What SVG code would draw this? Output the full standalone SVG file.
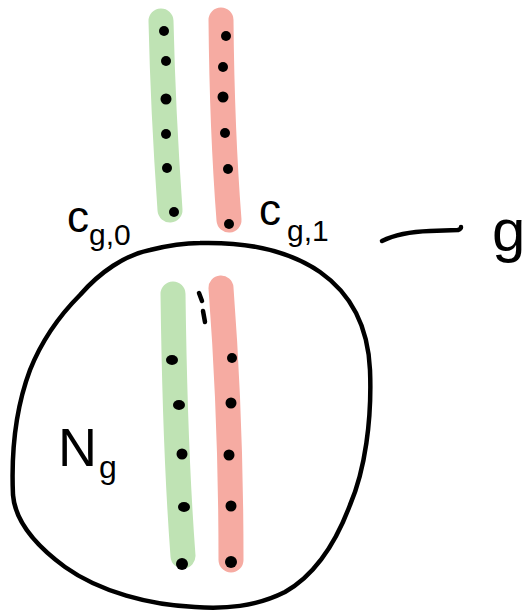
<svg xmlns="http://www.w3.org/2000/svg" width="527" height="612" viewBox="0 0 527 612">
<style>
.bar{fill:none;stroke-width:25;stroke-linecap:round}
.g{stroke:#bfe3b4}
.r{stroke:#f6aba2}
.dot{fill:#000}
.ink{fill:none;stroke:#000;stroke-width:4.5;stroke-linecap:round;stroke-linejoin:round}
.t{font-family:"Liberation Sans",Arial,sans-serif;fill:#000}
</style>
<rect width="527" height="612" fill="#fff"/>
<g id="node-cg0">
<path class="bar g" d="M161,21 Q163,110 170,210"/>
<g class="dot">
<circle cx="164" cy="31" r="5"/><circle cx="166" cy="61" r="5"/><circle cx="166" cy="99" r="5.5"/><circle cx="166" cy="134" r="5"/><circle cx="167" cy="168" r="5"/><circle cx="174" cy="212" r="5"/>
</g>
<text class="t" x="67" y="232" font-size="44">c<tspan font-size="30" dy="13">g,0</tspan></text>
</g>
<g id="node-cg1">
<path class="bar r" d="M221,20 Q222,130 229,220"/>
<g class="dot">
<circle cx="226" cy="36" r="5"/><circle cx="223" cy="67" r="5"/><circle cx="223" cy="97" r="5.5"/><circle cx="225" cy="133" r="5"/><circle cx="228" cy="169" r="5"/><circle cx="229" cy="224" r="5"/>
</g>
<text class="t" x="259" y="225" font-size="44">c<tspan font-size="30" dx="6" dy="16">g,1</tspan></text>
</g>
<g id="node-Ng">
<path class="ink" d="M200,243 C240,242 285,248 320,272 C350,293 368,325 370,370 C372,420 365,470 350,505 C335,545 315,575 285,592 C255,607 225,609 195,607 C150,605 100,592 65,567 C35,545 15,520 13,495 C11,450 15,410 30,370 C42,340 60,315 80,295 C100,272 125,255 150,250 C170,245 185,243 200,243 Z"/>
<path class="bar g" d="M173,294 Q175,450 183,556"/>
<path class="bar r" d="M221,288 Q231,420 231,560"/>
<g class="dot">
<ellipse cx="172" cy="360" rx="6" ry="5"/><ellipse cx="179" cy="405" rx="6" ry="5"/><circle cx="182" cy="454" r="5.5"/><ellipse cx="184" cy="507" rx="6" ry="5"/><circle cx="182" cy="564" r="6"/>
<circle cx="232" cy="358" r="5"/><circle cx="231" cy="403" r="5.5"/><circle cx="229" cy="455" r="5.5"/><circle cx="231" cy="506" r="5.5"/><circle cx="231" cy="562" r="6"/>
</g>
<path class="ink" d="M199,293 L202,301 M203,311 L205,322" stroke-width="5.5"/>
<text class="t" x="58" y="466" font-size="54">N<tspan font-size="32" dx="2" dy="12">g</tspan></text>
</g>
<g id="connectors">
<path class="ink" d="M382,241 Q400,232 430,231 L458,230 Q461,229 461,227"/>
</g>
<g id="node-g">
<text class="t" x="492" y="251" font-size="60">g</text>
</g>
</svg>
